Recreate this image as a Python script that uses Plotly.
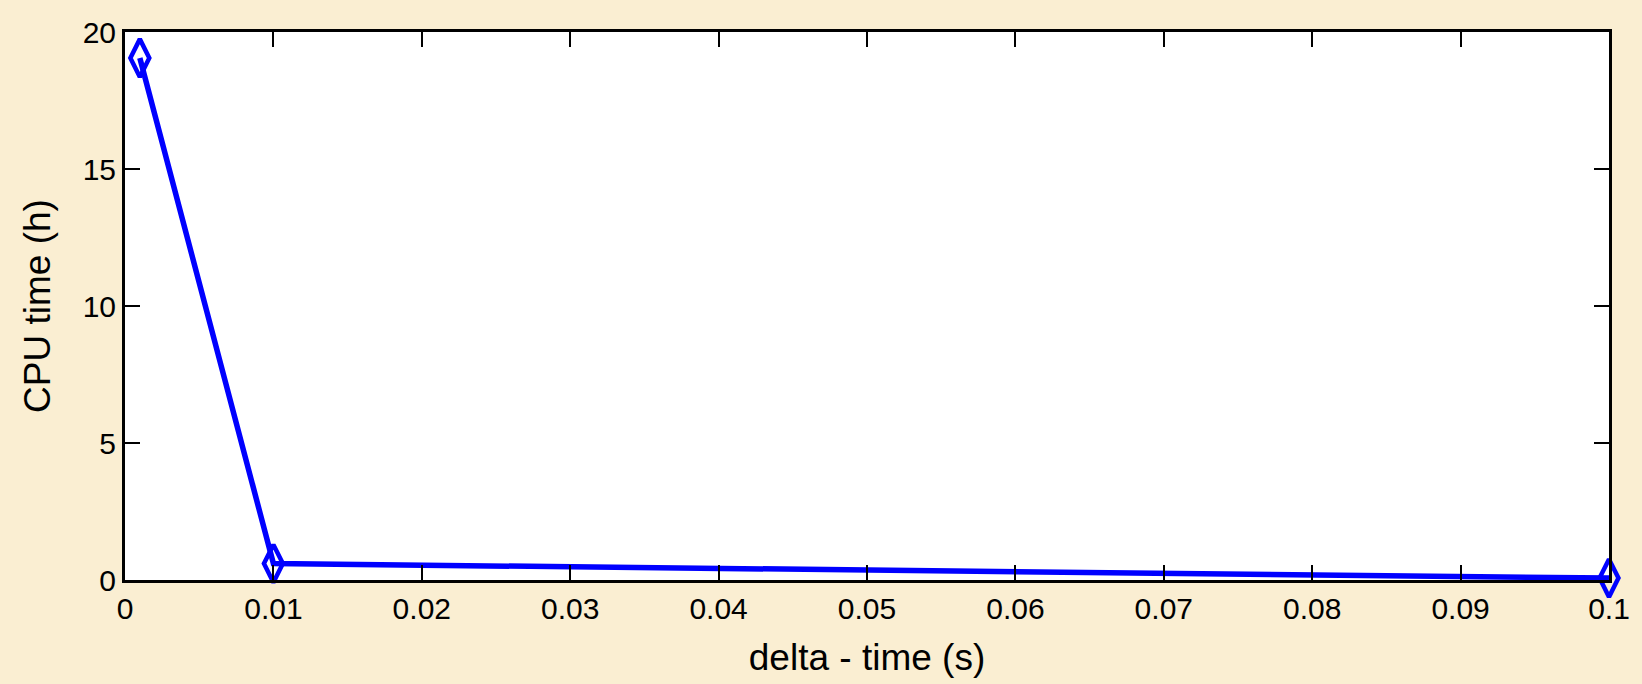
import plotly.graph_objects as go

delta_time = [0.001, 0.01, 0.1]
cpu_time = [19.05, 0.6, 0.07]
x_ticks = [0, 0.01, 0.02, 0.03, 0.04, 0.05, 0.06, 0.07, 0.08, 0.09, 0.1]
x_labels = ["0", "0.01", "0.02", "0.03", "0.04", "0.05", "0.06", "0.07", "0.08", "0.09", "0.1"]
y_ticks = [0, 5, 10, 15, 20]
y_labels = ["0", "5", "10", "15", "20"]

FONT = "Liberation Sans, Arial, sans-serif"

fig = go.Figure()
fig.add_trace(go.Scatter(
    x=delta_time, y=cpu_time, mode="lines+markers",
    line=dict(color="#0000ff", width=5.5),
    marker=dict(symbol="diamond-tall-open", size=27, color="#0000ff",
                line=dict(color="#0000ff", width=4.5)),
    cliponaxis=False, showlegend=False,
))

axis_common = dict(
    showline=True, linecolor="black", linewidth=3, mirror="ticks",
    ticks="inside", ticklen=15, tickwidth=2, tickcolor="black",
    showgrid=False, zeroline=False,
    tickfont=dict(family=FONT, size=30, color="black"),
)

fig.update_layout(
    width=1642, height=684,
    margin=dict(l=125, r=29, t=32, b=102),
    paper_bgcolor="rgb(250,238,210)",
    plot_bgcolor="white",
    font=dict(family=FONT, color="black"),
    xaxis=dict(range=[0, 0.1], tickvals=x_ticks, ticktext=x_labels,
               title=dict(text="delta - time (s)", font=dict(family=FONT, size=37), standoff=21),
               **axis_common),
    yaxis=dict(range=[0, 20], tickvals=y_ticks, ticktext=y_labels,
               title=dict(text="CPU time (h)", font=dict(family=FONT, size=37), standoff=21),
               **axis_common),
)

fig.write_html("out.html", config={"displayModeBar": False})

with open("out.html", "r", encoding="utf-8") as f:
    html = f.read()
html = html.replace("<body>", '<body style="margin:0;padding:0;">', 1)
html = html.replace("<head>", '<head><style>html,body{margin:0;padding:0;overflow:hidden;}</style>', 1)
with open("out.html", "w", encoding="utf-8") as f:
    f.write(html)
